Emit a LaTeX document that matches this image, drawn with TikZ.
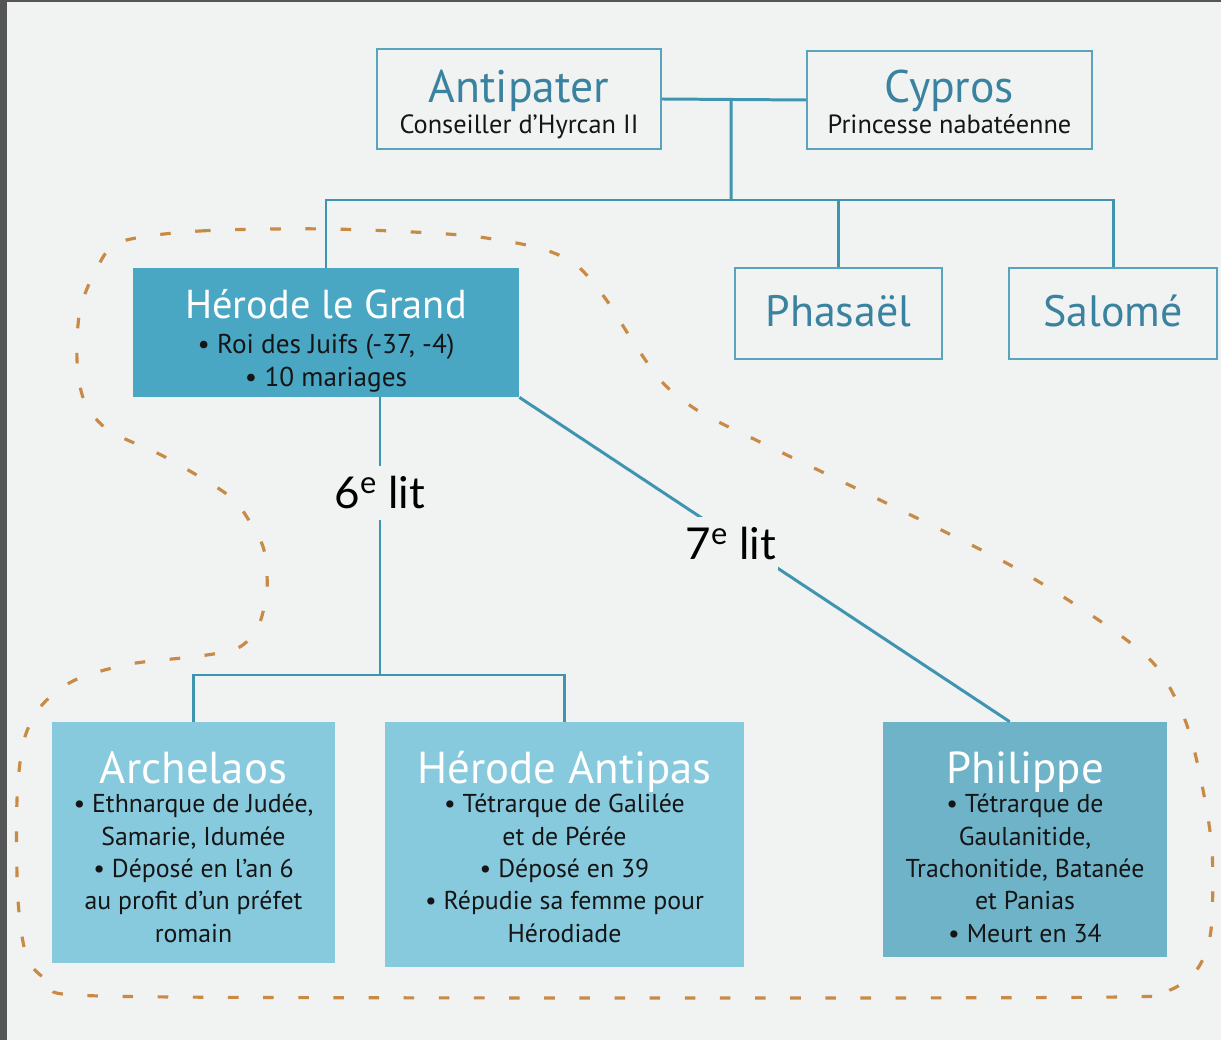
\documentclass[tikz,border=0pt]{standalone}
\usepackage{fontspec}
\setmainfont{PT Sans}
\newfontfamily\labfont{Lato}
\usetikzlibrary{calc}
\definecolor{bgc}{HTML}{F1F2F2}
\definecolor{edgec}{HTML}{555555}
\definecolor{linec}{HTML}{3F95B0}
\definecolor{boxline}{HTML}{5AA3BC}
\definecolor{herfill}{HTML}{4AA7C4}
\definecolor{kidfill}{HTML}{87C9DD}
\definecolor{phifill}{HTML}{6FB3C9}
\definecolor{dashc}{HTML}{C98A45}
\definecolor{tealtxt}{HTML}{3A83A0}
\definecolor{bodytxt}{HTML}{151515}
\tikzset{
  conn/.style={draw=linec, line width=1.7pt},
  outbox/.style={draw=boxline, line width=1.1pt, fill=none, inner sep=0pt},
  fillbox/.style={draw=none, inner sep=0pt},
  toptitle/.style={text=tealtxt, font=\fontsize{26}{30}\selectfont, inner sep=0pt, anchor=base},
  topsub/.style={text=bodytxt, font=\fontsize{15}{18}\selectfont, inner sep=0pt, anchor=base},
  kidtitle/.style={text=white, font=\fontsize{25.5}{30}\selectfont, inner sep=0pt, anchor=base},
  kidbody/.style={text=bodytxt, font=\fontsize{14.7}{18.4}\selectfont, align=center, inner sep=0pt, anchor=north},
  litlabel/.style={text=black, font=\labfont\fontsize{25}{30}\selectfont, fill=bgc, inner xsep=1pt, inner ysep=6pt, anchor=base},
  enclose/.style={draw=dashc, line width=1.8pt, dash pattern=on 6pt off 14pt}
}
\begin{document}
\begin{tikzpicture}[x=0.02cm, y=-0.02cm]
% background
\fill[bgc] (0,0) rectangle (1221,1040);
\fill[edgec] (0,0) rectangle (7,1040);
\fill[edgec] (0,0) rectangle (1221,2);
\useasboundingbox (0,0) rectangle (1221,1040);

% enclosing dashed outline
\draw[enclose] plot[smooth cycle, tension=0.5] coordinates {
 (120,242) (200,231) (330,229) (460,235) (535,247) (575,264) (605,298)
 (632,340) (662,382) (700,412) (760,442) (880,500) (1010,565) (1100,621)
 (1155,665) (1185,720) (1201,780) (1212,850) (1211,930) (1198,968)
 (1170,990) (1120,997) (600,998) (100,996) (55,984) (28,960) (18,900)
 (17,800) (24,740) (42,705) (75,680) (130,664) (200,656) (238,648)
 (258,627) (267,590) (264,550) (250,522) (228,495) (165,457) (108,430)
 (84,400) (77,360) (80,310) (96,270)};

% boxes
\node[outbox, minimum width=284*0.02cm, minimum height=100*0.02cm] (ant) at (519,99) {};
\node[outbox, minimum width=285*0.02cm, minimum height=98*0.02cm] (cyp) at (949.5,100) {};
\node[fillbox, fill=herfill, minimum width=386*0.02cm, minimum height=129*0.02cm] (her) at (326,332.5) {};
\node[outbox, minimum width=207*0.02cm, minimum height=91*0.02cm] (pha) at (838.5,313.5) {};
\node[outbox, minimum width=208*0.02cm, minimum height=91*0.02cm] (sal) at (1113,313.5) {};
\node[fillbox, fill=kidfill, minimum width=283*0.02cm, minimum height=241*0.02cm] (arc) at (193.5,842.5) {};
\node[fillbox, fill=kidfill, minimum width=359*0.02cm, minimum height=245*0.02cm] (ana) at (564.5,844.5) {};
\node[fillbox, fill=phifill, minimum width=284*0.02cm, minimum height=235*0.02cm] (phi) at (1025,839.5) {};

% connector points
\coordinate (m1) at ($(ant.east)!0.48!(cyp.west)$);
\coordinate (bar) at (731,200);
\coordinate (h6) at ($(her.south)+(54,0)$);
\coordinate (bar2) at (380,675);
\coordinate (phiin) at ($(phi.north west)+(127,0)$);

% connectors
\draw[conn] (ant.east) -- (cyp.west);
\draw[conn] (m1) -- (bar);
\draw[conn] (her.north) |- (bar) -| (pha.north);
\draw[conn] (bar) -| (sal.north);
\draw[conn] (h6) -- (bar2);
\draw[conn] (arc.north) |- (bar2) -| (ana.north);
\draw[conn] (her.south east) -- (phiin);

% lit labels
\node[litlabel] (l6) at (380,509) {6\textsuperscript{e} lit};
\node[litlabel] (l7) at (731,560) {7\textsuperscript{e} lit};

% texts: top
\node[toptitle] (antT) at (519,103) {Antipater};
\node[topsub] (antS) at (519,134) {Conseiller d’Hyrcan II};
\node[toptitle] (cypT) at (949.5,103) {Cypros};
\node[topsub] (cypS) at (949.5,134) {Princesse nabatéenne};
\node[toptitle, font=\fontsize{25}{30}\selectfont] (phaT) at (838.5,327) {Phasaël};
\node[toptitle, font=\fontsize{25}{30}\selectfont] (salT) at (1113,327) {Salomé};

% Herode le Grand
\node[kidtitle, font=\fontsize{23}{28}\selectfont] (herT) at (326,319) {Hérode le Grand};
\node[kidbody, font=\fontsize{15.5}{18.7}\selectfont] (herB) at (326,334) {• Roi des Juifs (-37, -4)\\• 10 mariages};

% children
\node[kidtitle] (arcT) at (193.5,783) {Archelaos};
\node[kidbody] (arcB) at (193.5,794) {• Ethnarque de Judée,\\Samarie, Idumée\\• Déposé en l’an 6\\au profit d’un préfet\\romain};
\node[kidtitle] (anaT) at (564.5,783) {Hérode Antipas};
\node[kidbody] (anaB) at (564.5,794) {• Tétrarque de Galilée\\et de Pérée\\• Déposé en 39\\• Répudie sa femme pour\\Hérodiade};
\node[kidtitle] (phiT) at (1025,783) {Philippe};
\node[kidbody] (phiB) at (1025,794) {• Tétrarque de\\Gaulanitide,\\Trachonitide, Batanée\\et Panias\\• Meurt en 34};
\end{tikzpicture}
\end{document}
